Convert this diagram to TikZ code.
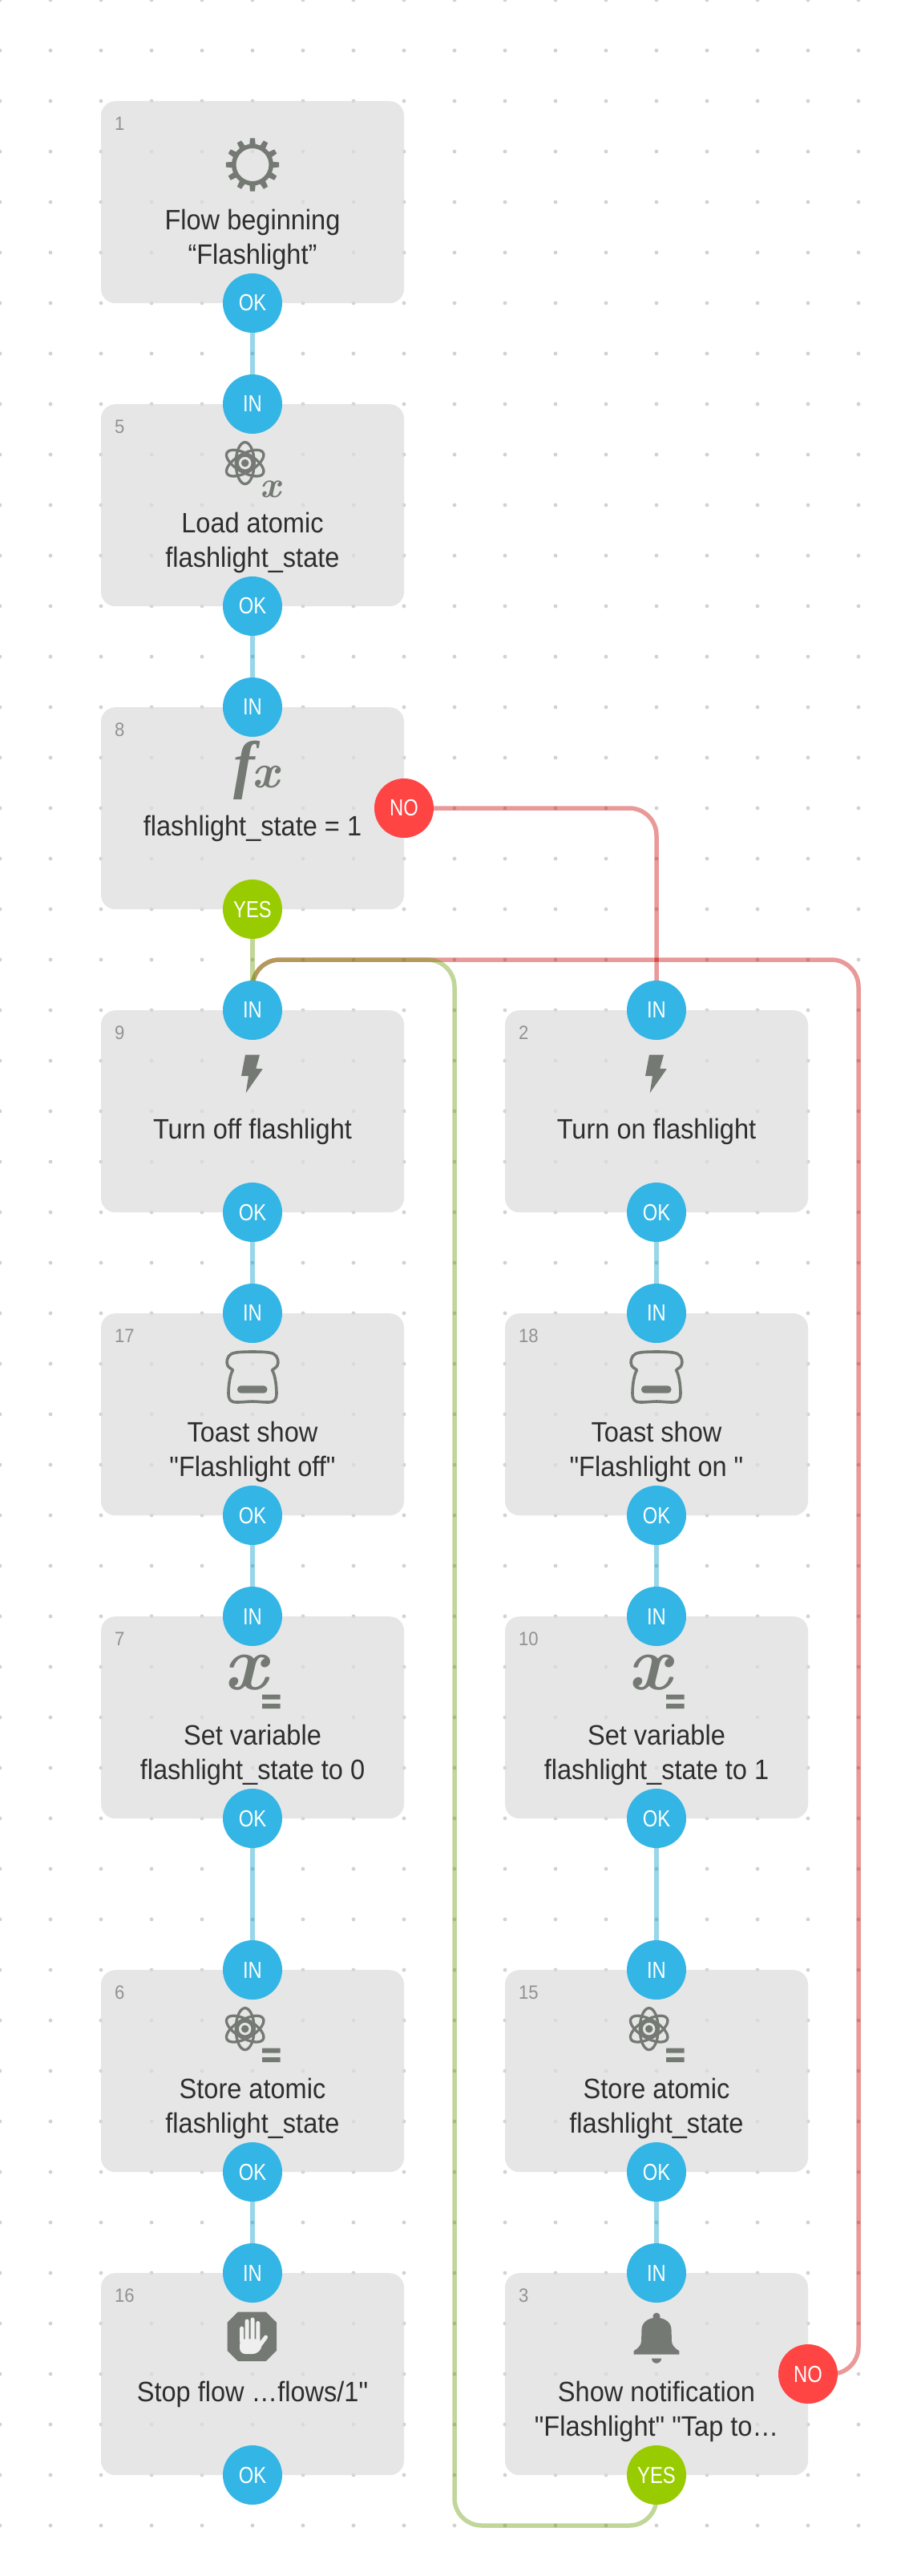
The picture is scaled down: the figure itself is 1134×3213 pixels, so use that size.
\documentclass[tikz,border=0pt]{standalone}
\usepackage{fontspec}
\newfontfamily\labelfont[FakeStretch=.93]{Liberation Sans}
\newfontfamily\portfont[FakeStretch=.82]{Liberation Sans}
\newfontfamily\numfont[FakeStretch=.92]{Liberation Sans}
\newfontfamily\fxfont{Liberation Serif}
\definecolor{dotc}{gray}{0.825}
\definecolor{boxc}{RGB}{221,221,221}
\definecolor{iconc}{HTML}{747A73}
\definecolor{textc}{HTML}{2E2E2E}
\definecolor{numc}{HTML}{929292}
\definecolor{pblue}{HTML}{33B5E5}
\definecolor{pred}{HTML}{FF4444}
\definecolor{pgreen}{HTML}{99CC00}
\definecolor{lblue}{HTML}{0099CC}
\definecolor{lred}{HTML}{CC0000}
\definecolor{lgreen}{HTML}{669900}
\tikzset{
  flowbox/.style={rectangle,rounded corners=18pt,fill=boxc,fill opacity=.73,minimum width=378pt,minimum height=252pt,inner sep=0pt,anchor=north},
  boxnum/.style={font=\numfont\fontsize{24}{28}\selectfont,text=numc,anchor=base west,inner sep=0pt},
  boxtext/.style={font=\labelfont\fontsize{35}{42.7}\selectfont,text=textc,align=center,anchor=north,inner sep=0pt},
  port/.style={circle,minimum size=74pt,inner sep=0pt,text=white,font=\portfont\fontsize{29}{32}\selectfont},
  portin/.style={port,fill=pblue},
  portno/.style={port,fill=pred},
  portyes/.style={port,fill=pgreen},
  wire/.style={line width=5.5pt,draw opacity=.4,rounded corners=34pt},
  wireblue/.style={wire,draw=lblue},
  wirered/.style={wire,draw=lred},
  wiregreen/.style={wire,draw=lgreen},
  iconfill/.style={fill=iconc,draw=none},
  iconline/.style={draw=iconc,line width=3.3pt},
  icontext/.style={text=iconc,inner sep=0pt,anchor=base}
}
% name, centre x, top y, number, text
\newcommand{\flowblock}[5]{%
  \node[flowbox] (#1) at (#2,#3) {};
  \node[boxnum] (#1num) at ({#2-172},{#3+36.5}) {#4};
  \node[boxtext] (#1txt) at (#2,{#3+130.5}) {\rule{0pt}{30pt}#5};
}
\newcommand{\icongear}[2]{\begin{scope}[shift={(#1,#2)}]
  \fill[iconc,even odd rule] (0,79.5) circle (26) (0,79.5) circle (20.5);
  \foreach \a in {0,30,...,330}{
    \fill[iconc,rotate around={\a:(0,79.5)}] (-3.8,79.5-24) -- (-3,79.5-33.2) -- (3,79.5-33.2) -- (3.8,79.5-24) -- cycle;}
\end{scope}}
\newcommand{\iconbolt}[2]{\begin{scope}[shift={(#1,#2)}]
  \fill[iconc] (-9,55.7) -- (9,55.7) -- (4.3,72.7) -- (12.7,73.3) -- (-8.3,103.3) -- (-5,82) -- (-14,82) -- cycle;
\end{scope}}
\newcommand{\iconatom}[2]{\begin{scope}[shift={(#1,#2)}]
  \begin{scope}[shift={(-9.3,73.6)}]
  \foreach \a in {90,30,-30}{\draw[iconline,rotate=\a] (0,0) ellipse (26 and 11.5);}
  \draw[iconline] (0,0) circle (9.5);
  \fill[iconc] (0,0) circle (4.8);
  \end{scope}
\end{scope}}
\newcommand{\iconeq}[2]{\begin{scope}[shift={(#1,#2)}]
  \fill[iconc] (12,97.5) rectangle (34.5,103.5) (12,109) rectangle (34.5,115);
\end{scope}}
\newcommand{\icontoast}[2]{\begin{scope}[shift={(#1,#2)}]
  \draw[draw=iconc,line width=3.6pt,line join=round]
    (0,48) .. controls (-12,48) and (-22,48.5) .. (-26,50.5) .. controls (-32,53) and (-33,62) .. (-31,65)
    .. controls (-30,68) and (-26,69) .. (-24.5,71) .. controls (-28,76) and (-30,90) .. (-30,100)
    .. controls (-30,108) and (-27,111) .. (-20,111) .. controls (-12,111) and (-6,110) .. (0,110)
    .. controls (6,110) and (12,111) .. (20,111) .. controls (27,111) and (30,108) .. (30,100)
    .. controls (30,90) and (28,76) .. (24.5,71) .. controls (26,69) and (30,68) .. (31,65)
    .. controls (33,62) and (32,53) .. (26,50.5) .. controls (22,48.5) and (12,48) .. (0,48) -- cycle;
  \fill[iconc,rounded corners=4.5pt] (-19,90.3) rectangle (18.5,99.7);
\end{scope}}
\newcommand{\iconhand}[2]{\begin{scope}[shift={(#1,#2)}]
  \begin{scope}[shift={(-0.7,79.3)}]
  \fill[iconc] (-17.5,-30.7) -- (17.5,-30.7) -- (30.8,-17.5) -- (30.8,17.5) -- (17.5,30.7) -- (-17.5,30.7) -- (-30.8,17.5) -- (-30.8,-17.5) -- cycle;
  \draw[draw=boxc!47!white,line width=5pt,line cap=round] (-12.7,-10.2) -- (-12.7,6) (-6.2,-19.2) -- (-6.2,6) (.7,-21.2) -- (.7,6) (7.5,-16.8) -- (7.5,6) (10,10.7) -- (17.3,.7);
  \fill[boxc!47!white,rounded corners=7pt] (-15.2,3) -- (10.5,3) -- (14,9) -- (8,21.7) -- (-15.2,21.7) -- cycle;
  \end{scope}
\end{scope}}
\newcommand{\iconbell}[2]{\begin{scope}[shift={(#1,#2)}]
  \fill[iconc] (0,54.2) circle (4.6);
  \fill[iconc] (-28.3,101.7) -- (-28.3,97.3) .. controls (-23,94) and (-19,90) .. (-19,85)
    .. controls (-18.5,78) and (-19,74) .. (-18.3,68.3) .. controls (-17,60) and (-8,55.7) .. (0,55.7)
    .. controls (8,55.7) and (17,60) .. (18.3,68.3) .. controls (19,74) and (18.5,78) .. (19,85)
    .. controls (19,90) and (23,94) .. (28.3,97.3) -- (28.3,101.7) -- cycle;
  \fill[iconc] (-6,106.7) -- (6,106.7) arc[start angle=0,end angle=180,radius=6] -- cycle;
\end{scope}}
\begin{document}
\begin{tikzpicture}[x=1pt,y=-1pt]
\useasboundingbox (0,0) rectangle (1134,3213);
\fill[white] (0,0) rectangle (1134,3213);
% dot grid
\foreach \gx in {0,63,...,1071}{\foreach \gy in {0,63,...,3150}{\fill[dotc] (\gx,\gy) circle (2.4);}}
% boxes
\flowblock{b1}{315}{126}{1}{Flow beginning\\“Flashlight”}
\flowblock{b5}{315}{504}{5}{Load atomic\\flashlight\_state}
\flowblock{b8}{315}{882}{8}{flashlight\_state = 1}
\flowblock{b9}{315}{1260}{9}{Turn off flashlight}
\flowblock{b2}{819}{1260}{2}{Turn on flashlight}
\flowblock{b17}{315}{1638}{17}{Toast show\\"Flashlight off"}
\flowblock{b18}{819}{1638}{18}{Toast show\\"Flashlight on "}
\flowblock{b7}{315}{2016}{7}{Set variable\\flashlight\_state to 0}
\flowblock{b10}{819}{2016}{10}{Set variable\\flashlight\_state to 1}
\flowblock{b6}{315}{2457}{6}{Store atomic\\flashlight\_state}
\flowblock{b15}{819}{2457}{15}{Store atomic\\flashlight\_state}
\flowblock{b16}{315}{2835}{16}{Stop flow …flows/1"}
\flowblock{b3}{819}{2835}{3}{Show notification\\"Flashlight" "Tap to…}
% icons
\icongear{315}{126}
\iconatom{315}{504}
\node[icontext,font=\fontsize{46}{46}\selectfont\bfseries\itshape] (x5) at (337,620) {x};
\node[icontext,font=\fxfont\fontsize{80}{80}\selectfont\bfseries\itshape] (f8) at (305,980) {f};
\node[icontext,font=\fontsize{60}{60}\selectfont\bfseries\itshape] (x8) at (331,982) {x};
\iconbolt{315}{1260}
\iconbolt{819}{1260}
\icontoast{315}{1638}
\icontoast{819}{1638}
\node[icontext,font=\fontsize{96}{96}\selectfont\bfseries\itshape] (x7) at (306,2107) {x};
\iconeq{315}{2016}
\node[icontext,font=\fontsize{96}{96}\selectfont\bfseries\itshape] (x10) at (810,2107) {x};
\iconeq{819}{2016}
\iconatom{315}{2457}\iconeq{315}{2457}
\iconatom{819}{2457}\iconeq{819}{2457}
\iconhand{315}{2835}
\iconbell{819}{2835}
% ports: placed first as coordinates so that wires run underneath
\coordinate (laneA) at (567,3150);
\coordinate (laneB) at (567,1197);
\coordinate (laneC) at (1071,1197);
\coordinate (pok1) at (315,378);
\coordinate (pin5) at (315,504);
\coordinate (pok5) at (315,756);
\coordinate (pin8) at (315,882);
\coordinate (pno8) at (504,1008);
\coordinate (pyes8) at (315,1134);
\coordinate (pin9) at (315,1260);
\coordinate (pin2) at (819,1260);
\coordinate (pok9) at (315,1512);
\coordinate (pok2) at (819,1512);
\coordinate (pin17) at (315,1638);
\coordinate (pin18) at (819,1638);
\coordinate (pok17) at (315,1890);
\coordinate (pok18) at (819,1890);
\coordinate (pin7) at (315,2016);
\coordinate (pin10) at (819,2016);
\coordinate (pok7) at (315,2268);
\coordinate (pok10) at (819,2268);
\coordinate (pin6) at (315,2457);
\coordinate (pin15) at (819,2457);
\coordinate (pok6) at (315,2709);
\coordinate (pok15) at (819,2709);
\coordinate (pin16) at (315,2835);
\coordinate (pin3) at (819,2835);
\coordinate (pok16) at (315,3087);
\coordinate (pyes3) at (819,3087);
\coordinate (pno3) at (1008,2961);
% wires
\foreach \s/\t in {pok1/pin5,pok5/pin8,pok9/pin17,pok2/pin18,pok17/pin7,pok18/pin10,pok7/pin6,pok10/pin15,pok6/pin16,pok15/pin3}
  {\draw[wireblue] (\s) -- (\t);}
\draw[wirered] (pno8) -| (pin2);
\draw[wirered] (pno3) -| (laneC) -| (pin9);
\draw[wiregreen] (pyes8) -- (pin9);
\draw[wiregreen] (pyes3) |- (laneA) -- (laneB) -| (pin9);
% ports
\foreach \n/\lab/\sty in {pok1/OK/portin,pin5/IN/portin,pok5/OK/portin,pin8/IN/portin,pno8/NO/portno,pyes8/YES/portyes,
  pin9/IN/portin,pin2/IN/portin,pok9/OK/portin,pok2/OK/portin,pin17/IN/portin,pin18/IN/portin,pok17/OK/portin,pok18/OK/portin,
  pin7/IN/portin,pin10/IN/portin,pok7/OK/portin,pok10/OK/portin,pin6/IN/portin,pin15/IN/portin,pok6/OK/portin,pok15/OK/portin,
  pin16/IN/portin,pin3/IN/portin,pok16/OK/portin,pyes3/YES/portyes,pno3/NO/portno}
  {\node[\sty] (\n node) at (\n) {\lab};}
\end{tikzpicture}
\end{document}
